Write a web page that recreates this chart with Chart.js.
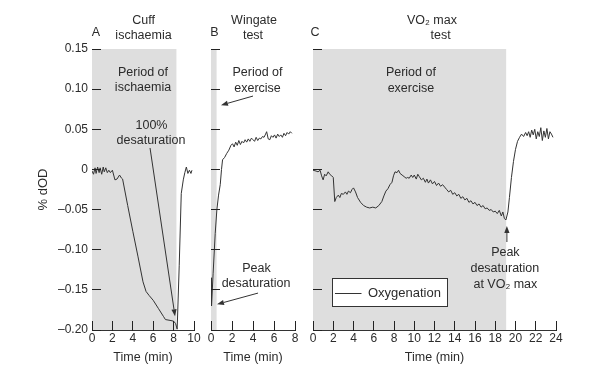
<!DOCTYPE html>
<html><head><meta charset="utf-8">
<script src="https://cdn.jsdelivr.net/npm/chart.js@4/dist/chart.umd.min.js"></script>
<style>
html,body{margin:0;padding:0;background:#fff;}
#wrap{position:relative;width:600px;height:377px;overflow:hidden;}
canvas{position:absolute;left:0;top:0;}
</style></head><body>
<div id="wrap">
<canvas id="cA" width="600" height="377"></canvas>
<canvas id="cB" width="600" height="377"></canvas>
<canvas id="cC" width="600" height="377"></canvas>
</div>
<script>
// ---------- data ----------
const yTickLabels = ['–0.20','–0.15','–0.10','–0.05','0','0.05','0.10','0.15'];
const yMin = -0.20, yMax = 0.15, yStep = 0.05;

// Panel A: cuff ischaemia
const periodA = [0, 8.3];
const timeA = [0.0,0.15,0.3,0.4,0.55,0.7,0.8,0.95,1.1,1.2,1.35,1.5,1.65,1.8,2.0,2.25,2.45,2.7,2.9,3.0,3.5,4.0,4.5,5.0,5.3,5.6,6.0,6.5,7.0,7.2,7.65,8.0,8.2,8.35,8.55,8.75,8.95,9.1,9.25,9.4,9.55,9.7,9.8];
const oxyA  = [-0.002,-0.006,0.002,-0.005,0.003,-0.004,0.002,-0.006,0.003,-0.003,0.002,-0.004,-0.001,-0.004,-0.001,-0.013,-0.012,-0.007,-0.011,-0.012,-0.045,-0.077,-0.108,-0.140,-0.152,-0.157,-0.163,-0.173,-0.183,-0.187,-0.188,-0.189,-0.192,-0.199,-0.120,-0.030,-0.013,-0.004,0.003,-0.005,-0.001,-0.005,-0.001];

// Panel B: Wingate test
const periodB = [0, 0.55];
const timeB = [0,0.05,0.2,0.4,0.56,0.72,0.88,1.0,1.1,1.3,1.5,1.7,1.9,2.05,2.2,2.35,2.5,2.65,2.8,2.95,3.1,3.25,3.4,3.55,3.7,3.85,4.0,4.15,4.3,4.45,4.6,4.75,4.9,5.05,5.2,5.3,5.45,5.6,5.75,5.9,6.05,6.2,6.35,6.5,6.65,6.8,6.95,7.1,7.25,7.4,7.55,7.7];
const oxyB  = [-0.135,-0.170,-0.130,-0.080,-0.050,-0.032,-0.019,0.000,0.012,0.015,0.020,0.024,0.030,0.032,0.028,0.034,0.030,0.036,0.031,0.035,0.033,0.037,0.034,0.038,0.035,0.039,0.037,0.035,0.040,0.036,0.039,0.038,0.041,0.040,0.044,0.047,0.038,0.037,0.042,0.040,0.043,0.039,0.044,0.041,0.043,0.040,0.045,0.042,0.046,0.044,0.047,0.045];

// Panel C: VO2 max test
const periodC = [0, 19.1];
const timeC = [0.0,0.3,0.5,0.7,0.85,1.0,1.15,1.3,1.5,1.65,1.85,2.0,2.15,2.3,2.5,2.65,2.8,3.0,3.2,3.35,3.5,3.7,3.85,4.0,4.2,4.4,4.7,5.0,5.3,5.6,5.9,6.2,6.5,6.8,7.0,7.2,7.4,7.6,7.8,7.95,8.1,8.3,8.45,8.6,8.8,9.0,9.2,9.35,9.5,9.7,9.85,10.0,10.2,10.35,10.5,10.7,10.9,11.1,11.25,11.4,11.6,11.8,12.0,12.2,12.4,12.6,12.8,13.0,13.2,13.4,13.6,13.8,14.0,14.2,14.4,14.6,14.8,15.0,15.2,15.4,15.6,15.8,16.0,16.2,16.4,16.6,16.8,17.0,17.2,17.4,17.6,17.8,18.0,18.2,18.4,18.6,18.75,18.9,19.05,19.25,19.4,19.6,19.8,20.0,20.2,20.4,20.6,20.8,21.0,21.15,21.3,21.45,21.6,21.75,21.9,22.05,22.2,22.35,22.5,22.65,22.8,22.95,23.1,23.25,23.4,23.55,23.7];
const oxyC  = [-0.001,-0.002,-0.003,-0.001,-0.008,-0.013,-0.006,-0.008,-0.003,-0.006,-0.008,-0.010,-0.040,-0.035,-0.032,-0.035,-0.030,-0.031,-0.028,-0.031,-0.027,-0.029,-0.025,-0.023,-0.028,-0.035,-0.041,-0.045,-0.047,-0.048,-0.047,-0.048,-0.045,-0.040,-0.033,-0.027,-0.024,-0.019,-0.016,-0.008,-0.003,-0.004,-0.001,-0.005,-0.007,-0.009,-0.011,-0.010,-0.011,-0.007,-0.010,-0.007,-0.012,-0.006,-0.009,-0.013,-0.011,-0.016,-0.012,-0.017,-0.013,-0.018,-0.015,-0.020,-0.017,-0.021,-0.019,-0.022,-0.025,-0.028,-0.026,-0.031,-0.029,-0.033,-0.031,-0.036,-0.034,-0.038,-0.036,-0.041,-0.039,-0.043,-0.041,-0.045,-0.043,-0.047,-0.045,-0.049,-0.048,-0.051,-0.050,-0.053,-0.052,-0.055,-0.051,-0.058,-0.053,-0.061,-0.063,-0.053,-0.035,-0.010,0.010,0.025,0.035,0.040,0.044,0.041,0.046,0.042,0.047,0.040,0.049,0.043,0.050,0.038,0.047,0.041,0.052,0.036,0.048,0.040,0.051,0.038,0.047,0.044,0.040];

const seriesName = 'Oxygenation';

// ---------- styling ----------
const FONT = '"Liberation Sans", Arial, sans-serif';
const TEXT = '#2b2b2b', AXIS = '#333333', LINE = '#333333', SHADE = '#dedede';
const TICK_LEN = 9;

// inward-pointing tick marks, placed through the chart's own scales
const inTicks = {id:'inTicks', afterDraw(chart){
  const ctx = chart.ctx, area = chart.chartArea;
  const xs = chart.scales.x, ys = chart.scales.y;
  ctx.save();
  ctx.fillStyle = '#222222';
  const yb = Math.round(area.bottom);
  for (const tk of xs.ticks){
    const x = Math.floor(xs.getPixelForValue(tk.value));
    ctx.fillRect(x, yb - TICK_LEN, 1, TICK_LEN + 1);
  }
  const xl = Math.floor(area.left);
  for (const tk of ys.ticks){
    const y = Math.floor(ys.getPixelForValue(tk.value));
    ctx.fillRect(xl, y, TICK_LEN, 1);
  }
  ctx.restore();
}};

function makeAnnot(a){
  return {id:'annot', afterDraw(chart){
    const ctx = chart.ctx, xs = chart.scales.x, ys = chart.scales.y;
    const px = t => xs.getPixelForValue(t), py = v => ys.getPixelForValue(v);
    ctx.save();
    ctx.textBaseline = 'middle';
    for (const [s,t,v,al] of a.texts){
      ctx.fillStyle = TEXT; ctx.font = '12.5px ' + FONT; ctx.textAlign = al || 'center';
      ctx.fillText(s, px(t), py(v));
    }
    ctx.strokeStyle = LINE; ctx.lineWidth = 1;
    for (const [t0,v0,t1,v1] of (a.arrows || [])){
      const x0 = px(t0), y0 = py(v0), x1 = px(t1), y1 = py(v1);
      const ang = Math.atan2(y1-y0, x1-x0), L = 7, W = 2.6;
      const bx = x1 - L*Math.cos(ang), by = y1 - L*Math.sin(ang);
      ctx.beginPath(); ctx.moveTo(x0,y0); ctx.lineTo(bx,by); ctx.stroke();
      ctx.beginPath(); ctx.moveTo(x1,y1);
      ctx.lineTo(bx + W*Math.sin(ang), by - W*Math.cos(ang));
      ctx.lineTo(bx - W*Math.sin(ang), by + W*Math.cos(ang));
      ctx.closePath(); ctx.fillStyle = LINE; ctx.fill();
    }
    if (a.legend){
      const L = a.legend;
      const x0 = Math.round(px(L.box[0]))+0.5, y0 = Math.round(py(L.box[1]))+0.5;
      const x1 = Math.round(px(L.box[2]))+0.5, y1 = Math.round(py(L.box[3]))+0.5;
      ctx.fillStyle = '#fff'; ctx.fillRect(x0, y0, x1-x0, y1-y0);
      ctx.strokeStyle = AXIS; ctx.lineWidth = 1; ctx.strokeRect(x0, y0, x1-x0, y1-y0);
      const ly = Math.round(py(L.line[2]))+0.5;
      ctx.strokeStyle = LINE; ctx.beginPath(); ctx.moveTo(px(L.line[0]), ly); ctx.lineTo(px(L.line[1]), ly); ctx.stroke();
      ctx.fillStyle = TEXT; ctx.font = '13px ' + FONT; ctx.textAlign = 'left';
      ctx.fillText(chart.data.datasets[1].label, px(L.text[0]), py(L.text[1]));
    }
    ctx.restore();
  }};
}

function makeChart(id, cfg){
  const datasets = [
    {label:'period', data: cfg.period.map(t => ({x:t, y:yMax})), fill:'start', backgroundColor:SHADE,
     borderWidth:0, pointRadius:0, order:2},
    {label: seriesName, data: cfg.t.map((t,i) => ({x:t, y:cfg.v[i]})), borderColor:LINE, borderWidth:1,
     pointRadius:0, tension:0, fill:false, order:1}
  ];
  return new Chart(document.getElementById(id), {
    type:'line',
    data:{datasets},
    options:{
      responsive:false, animation:false, devicePixelRatio:1,
      layout:{padding:cfg.pad},
      plugins:{legend:{display:false}, tooltip:{enabled:false}},
      scales:{
        x:{type:'linear', min:0, max:cfg.xMax,
           ticks:{stepSize:2, color:TEXT, font:{family:FONT, size:12}, padding:1, maxRotation:0, autoSkip:false},
           grid:{display:false, drawOnChartArea:false, drawTicks:false},
           border:{display:true, color:AXIS, width:1},
           title:{display:true, text:'Time (min)', color:TEXT, font:{family:FONT, size:12.5}, padding:{top:0, bottom:12}},
           afterFit(s){ s.height = 47; s.paddingLeft = 0; s.paddingRight = 0; }},
        y:{type:'linear', min:yMin, max:yMax,
           ticks:{stepSize:yStep, display:cfg.showY, color:TEXT, font:{family:FONT, size:12}, padding:4,
                  callback:(v,i) => yTickLabels[i]},
           grid:{display:false, drawOnChartArea:false, drawTicks:false},
           border:{display:true, color:AXIS, width:1},
           title:{display:cfg.showY, text:'% dOD', color:TEXT, font:{family:FONT, size:13}, padding:{top:36, bottom:0}},
           afterFit(s){ s.width = cfg.yWidth; s.paddingTop = 0; s.paddingBottom = 0; }}
      }
    },
    plugins:[makeAnnot(cfg.annot), inTicks]
  });
}

makeChart('cA', {period:periodA, t:timeA, v:oxyA, xMax:10, showY:true, yWidth:92,
  pad:{left:0, right:406, top:49, bottom:0},
  annot:{texts:[['A',0.39,0.170],['Cuff',5.05,0.186],['ischaemia',5.05,0.167],
                ['Period of',5.0,0.121],['ischaemia',5.0,0.102],['100%',5.83,0.055],['desaturation',5.78,0.036]],
         arrows:[[5.69,0.0267,8.14,-0.183]]}});

makeChart('cB', {period:periodB, t:timeB, v:oxyB, xMax:8, showY:false, yWidth:10,
  pad:{left:201, right:305, top:49, bottom:0},
  annot:{texts:[['B',0.33,0.170],['Wingate',4.1,0.186],['test',4.0,0.167],
                ['Period of',4.43,0.121],['exercise',4.43,0.101],['Peak',4.33,-0.123],['desaturation',4.29,-0.142]],
         arrows:[[4.0,0.0914,0.95,0.080],[4.48,-0.154,0.57,-0.168]]}});

makeChart('cC', {period:periodC, t:timeC, v:oxyC, xMax:24, showY:false, yWidth:10,
  pad:{left:303, right:44, top:49, bottom:0},
  annot:{texts:[['C',0.2,0.170],['VO₂ max',11.75,0.186],['test',12.6,0.167],
                ['Period of',9.67,0.121],['exercise',9.67,0.101],
                ['Peak',19.0,-0.104],['desaturation',18.95,-0.123],['at VO₂ max',19.0,-0.143]],
         arrows:[[19.15,-0.0904,19.15,-0.0705]],
         legend:{box:[1.88,-0.1353,13.23,-0.170], line:[2.17,4.79,-0.154], text:[5.43,-0.154]}}});
</script>
</body></html>
